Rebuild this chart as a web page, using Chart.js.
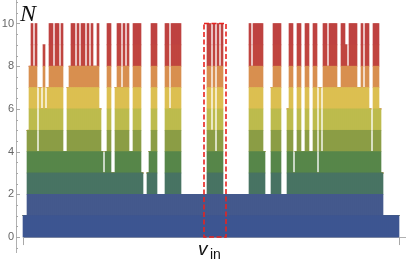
<!DOCTYPE html>
<html>
<head>
<meta charset="utf-8">
<script src="https://cdn.jsdelivr.net/npm/chart.js@4.4.1/dist/chart.umd.min.js"></script>
<style>
  html, body { margin: 0; padding: 0; background: #fff; }
  canvas { display: block; }
</style>
</head>
<body>
<canvas id="chart" width="415" height="261"></canvas>
<script>
// N per column (one column = one narrow slice of v_in)
const heights = [
  1, 1, 5, 8, 10, 8, 10, 4, 7, 6,
  9, 6, 7, 10, 10, 8, 10, 10, 8, 10,
  4, 4, 7, 8, 10, 10, 8, 10, 8, 10,
  10, 8, 10, 8, 10, 8, 8, 10, 6, 4,
  3, 4, 10, 10, 3, 3, 7, 10, 10, 7,
  10, 8, 10, 4, 4, 10, 10, 10, 10, 3,
  2, 2, 3, 4, 10, 10, 10, 2, 2, 2,
  2, 10, 10, 6, 10, 10, 10, 10, 10, 2,
  2, 2, 2, 2, 2, 2, 2, 2, 2, 2,
  2, 2, 10, 10, 5, 10, 4, 10, 8, 10,
  2, 2, 2, 2, 2, 2, 2, 2, 2, 2,
  2, 2, 2, 10, 8, 10, 10, 10, 10, 10,
  4, 2, 2, 2, 7, 10, 10, 10, 10, 2,
  2, 2, 6, 10, 10, 3, 4, 10, 10, 4,
  4, 10, 10, 4, 4, 10, 10, 3, 7, 4,
  10, 10, 8, 10, 10, 10, 10, 7, 7, 10,
  10, 9, 8, 10, 10, 10, 10, 7, 7, 10,
  7, 10, 10, 6, 4, 10, 10, 10, 6, 3,
  1, 1, 1, 1, 1, 1, 1, 1
];
const columns = heights.map((_, i) => i);
const yTicks = [0, 2, 4, 6, 8, 10];
const boxCols = [90, 101];   // highlighted v_in window
const boxN = [0, 10];

const bandColors = ['#3d5591', '#44598d', '#487363', '#578649', '#8b9d45',
                    '#bdbb4d', '#dcbf51', '#d88f4f', '#c0453f', '#be4240'];

const datasets = bandColors.map((color, k) => ({
  data: heights.map(n => Math.max(0, Math.min(1, n - k))),
  backgroundColor: color,
  borderWidth: 0,
  barPercentage: 1,
  categoryPercentage: 1
}));

const overlay = {
  id: 'overlay',
  beforeDatasetsDraw(chart) {
    // horizontal axis at N = 0, under the bars
    const { ctx, scales: { x, y }, chartArea } = chart;
    const py = Math.round(y.getPixelForValue(0)) + 0.5;
    ctx.save();
    ctx.strokeStyle = '#b0b0b0';
    ctx.lineWidth = 1;
    ctx.beginPath();
    ctx.moveTo(x.getPixelForValue(columns[0] - 0.5), py);
    ctx.lineTo(chartArea.right, py);
    ctx.stroke();
    ctx.restore();
  },
  afterDatasetsDraw(chart) {
    const { ctx, scales: { x, y }, chartArea } = chart;
    ctx.save();
    ctx.strokeStyle = '#a8a8a8';
    ctx.lineWidth = 1;
    // y ticks, pointing inward
    for (let v = -0.5; v <= 11; v += 0.5) {
      const py = Math.round(y.getPixelForValue(v)) + 0.5;
      const len = v % 2 === 0 ? 4 : 2;
      ctx.beginPath();
      ctx.moveTo(chartArea.left, py);
      ctx.lineTo(chartArea.left + len, py);
      ctx.stroke();
    }
    // x ticks at the ends of the data
    const y0 = y.getPixelForValue(0);
    [columns[0] - 0.5, columns[columns.length - 1] + 0.5].forEach(v => {
      const px = Math.round(x.getPixelForValue(v)) + 0.5;
      ctx.beginPath();
      ctx.moveTo(px, y0);
      ctx.lineTo(px, y0 + 8);
      ctx.stroke();
    });

    // dashed window
    const bl = x.getPixelForValue(boxCols[0]);
    const br = x.getPixelForValue(boxCols[1]);
    const bt = y.getPixelForValue(boxN[1]);
    const bb = y.getPixelForValue(boxN[0]);
    ctx.setLineDash([5, 2.5]);
    ctx.strokeStyle = '#e8231f';
    ctx.lineWidth = 1.6;
    ctx.strokeRect(bl, bt, br - bl, bb - bt);
    ctx.setLineDash([]);

    // axis labels
    ctx.fillStyle = '#111';
    ctx.textBaseline = 'alphabetic';
    ctx.textAlign = 'left';
    ctx.font = 'italic 24px "Liberation Serif"';
    ctx.fillText('N', chartArea.left + 4, y.getPixelForValue(10) - 2);
    ctx.font = 'italic 19px "Liberation Sans"';
    ctx.fillText('v', bl - 6, bb + 18);
    ctx.font = '14px "Liberation Sans"';
    ctx.fillText('in', bl + 6, bb + 22);
    ctx.restore();
  }
};

new Chart(document.getElementById('chart'), {
  type: 'bar',
  data: { labels: columns, datasets: datasets },
  options: {
    responsive: false,
    animation: false,
    devicePixelRatio: 1,
    layout: { padding: { left: 0, right: 9, top: 0, bottom: 9 } },
    plugins: { legend: { display: false }, tooltip: { enabled: false } },
    scales: {
      x: {
        type: 'linear',
        display: false,
        stacked: true,
        offset: false,
        min: -4,
        max: 191
      },
      y: {
        stacked: true,
        min: -0.7,
        max: 11.1,
        afterBuildTicks: scale => { scale.ticks = yTicks.map(v => ({ value: v })); },
        afterFit: scale => { scale.width = 16; scale.paddingTop = 0; scale.paddingBottom = 0; },
        grid: { display: false, drawTicks: false },
        border: { display: true, color: '#b0b0b0' },
        ticks: {
          padding: 2,
          color: '#666',
          font: { family: 'Liberation Sans', size: 11 }
        }
      }
    }
  },
  plugins: [overlay]
});
</script>
</body>
</html>
